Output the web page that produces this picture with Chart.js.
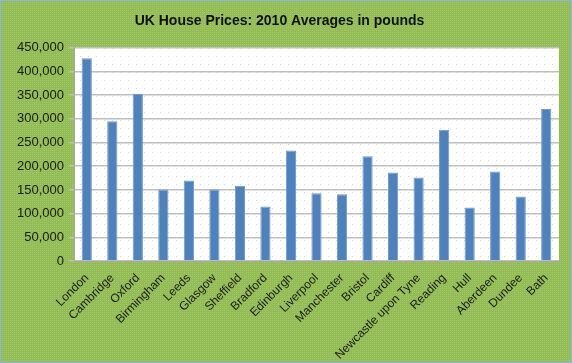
<!DOCTYPE html>
<html>
<head>
<meta charset="utf-8">
<script src="https://cdn.jsdelivr.net/npm/chart.js@4"></script>
<style>
  body { margin: 0; }
  #wrap { width: 572px; height: 363px; }
</style>
</head>
<body>
<div id="wrap"><canvas id="chart-precios"></canvas></div>
<script>
const ciudades = ['London', 'Cambridge', 'Oxford', 'Birmingham', 'Leeds', 'Glasgow', 'Sheffield', 'Bradford',
  'Edinburgh', 'Liverpool', 'Manchester', 'Bristol', 'Cardiff', 'Newcastle upon Tyne', 'Reading', 'Hull',
  'Aberdeen', 'Dundee', 'Bath'];
const precios = [428000, 295000, 353000, 151000, 170000, 151000, 159000, 115000,
  233000, 143000, 141000, 221000, 187000, 176000, 277000, 113000,
  189000, 136000, 321000];
const ticksY = [0, 50000, 100000, 150000, 200000, 250000, 300000, 350000, 400000, 450000];

const fuente = 'Liberation Sans';

// fondo verde con textura y area blanca punteada
const hacerPatron = (fondo, punto, paso) => {
  const c = document.createElement('canvas');
  c.width = paso; c.height = paso;
  const g = c.getContext('2d');
  g.fillStyle = fondo;
  g.fillRect(0, 0, paso, paso);
  g.fillStyle = punto;
  g.fillRect(0, 0, 1, 1);
  return g.createPattern(c, 'repeat');
};

const fondoPlugin = {
  id: 'fondo',
  beforeDraw(chart) {
    const ctx = chart.ctx;
    const a = chart.chartArea;
    ctx.save();
    ctx.fillStyle = hacerPatron('#92bd52', '#a3c46a', 2);
    ctx.fillRect(0, 0, chart.width, chart.height);
    ctx.fillStyle = hacerPatron('#ffffff', '#d6d6d6', 8);
    ctx.fillRect(a.left, a.top, a.right - a.left, a.bottom - a.top);
    ctx.strokeStyle = '#8eb4e3';
    ctx.lineWidth = 1;
    ctx.strokeRect(0.5, 0.5, chart.width - 1, chart.height - 1);
    ctx.restore();
  }
};

const ctx = document.getElementById('chart-precios').getContext('2d');

let graficoPrecios = new Chart(ctx, {
  type: 'bar',
  data: {
    labels: ciudades,
    datasets: [{
      label: 'Precio',
      data: precios,
      backgroundColor: '#4f81bd',
      borderColor: '#6f9bd0',
      borderWidth: 1,
      categoryPercentage: 1,
      barPercentage: 0.4
    }]
  },
  options: {
    responsive: true,
    maintainAspectRatio: false,
    animation: false,
    layout: { padding: { left: 0, right: 13, top: 0, bottom: 0 } },
    plugins: {
      legend: { display: false },
      tooltip: { enabled: false },
      title: {
        display: true,
        text: 'UK House Prices: 2010 Averages in pounds',
        color: '#111',
        font: { family: fuente, size: 14, weight: 'bold' },
        padding: { top: 13, bottom: 18 }
      }
    },
    scales: {
      x: {
        grid: { display: false, drawTicks: true },
        border: { color: '#a6a6a6' },
        ticks: {
          color: '#1a1a1a',
          font: { family: fuente, size: 12 },
          maxRotation: 45,
          minRotation: 45,
          autoSkip: false,
          padding: 2
        },
        afterFit: (scale) => { scale.height = 102; }
      },
      y: {
        min: 0,
        max: 450000,
        afterBuildTicks: (scale) => { scale.ticks = ticksY.map((v) => ({ value: v })); },
        grid: { color: '#bfbfbf', lineWidth: 1.5, tickLength: 5 },
        border: { color: '#a6a6a6' },
        ticks: {
          color: '#1a1a1a',
          font: { family: fuente, size: 13 },
          padding: 5,
          callback: (v) => v.toLocaleString('en-GB')
        },
        afterFit: (scale) => { scale.width = 74; }
      }
    }
  },
  plugins: [fondoPlugin]
});
</script>
</body>
</html>
